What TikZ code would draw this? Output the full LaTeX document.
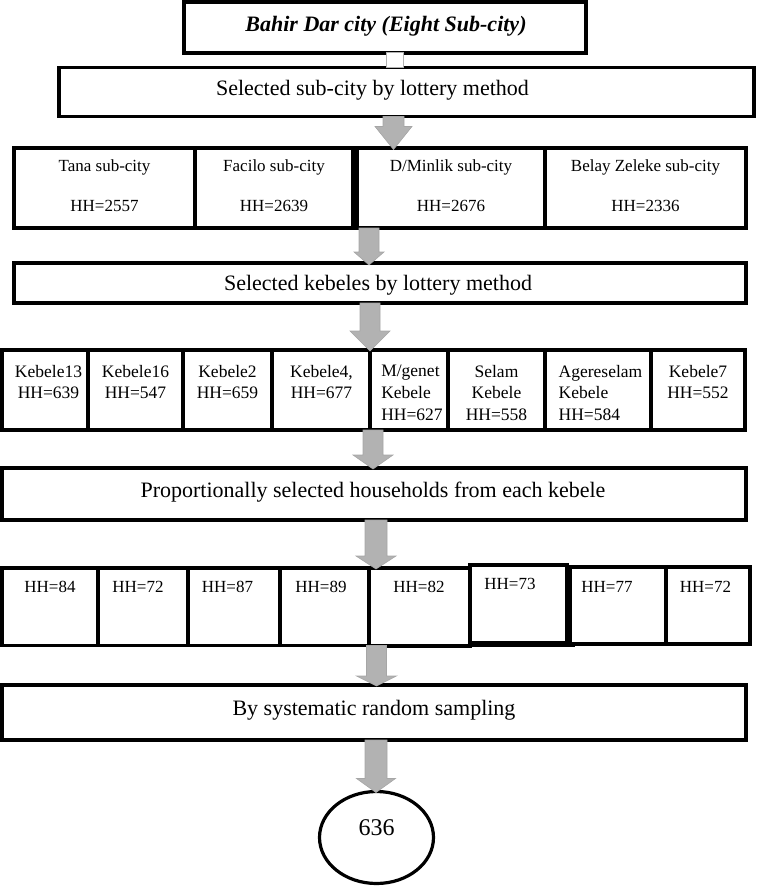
\documentclass[tikz,border=0pt]{standalone}
\usepackage{fontspec}
\setmainfont{Liberation Serif}
\usetikzlibrary{shapes.geometric,calc}
\tikzset{
  bx/.style={draw=black, line width=3.2pt, inner sep=0pt, outer sep=0pt, fill=white},
  big/.style={inner sep=0pt, font=\fontsize{22}{26}\selectfont},
  rowone/.style={inner sep=0pt, align=center, anchor=north, font=\fontsize{17}{40}\selectfont},
  rowtwo/.style={inner sep=0pt, anchor=north, font=\fontsize{17.5}{21.8}\selectfont},
  rowthree/.style={inner sep=0pt, anchor=base, font=\fontsize{17}{20}\selectfont},
  blockarr/.style={draw=gray!70, line width=0.6pt, left color=gray!60, middle color=gray!30, right color=gray!60},
}
% optional style, name, x1, y1, x2, y2
\newcommand{\bx}[6][]{\node[bx,#1,minimum width={(#5-#3)*1pt},minimum height={(#6-#4)*1pt}] (#2) at ({(#3+#5)/2},{(#4+#6)/2}) {};}
% from, to, cx, half shaft, half head, head length, overshoot
\newcommand{\barr}[7]{\path[blockarr] let \p1=(#1.south), \p2=(#2.north) in
  ({(#3-#4)*1pt},\y1) -- ({(#3+#4)*1pt},\y1) -- ({(#3+#4)*1pt},{\y2+(#6-#7)*1pt}) -- ({(#3+#5)*1pt},{\y2+(#6-#7)*1pt})
  -- ({#3*1pt},{\y2-#7*1pt}) -- ({(#3-#5)*1pt},{\y2+(#6-#7)*1pt}) -- ({(#3-#4)*1pt},{\y2+(#6-#7)*1pt}) -- cycle;}
\begin{document}
\begin{tikzpicture}[x=1pt,y=-1pt]
\useasboundingbox (0,0) rectangle (756,889);
% level 1
\bx[line width=4pt]{b1}{184}{2}{586}{52.5}
\node[big, anchor=base, font=\fontsize{22}{26}\selectfont\bfseries\itshape] (b1t) at (386,31.7) {Bahir Dar city (Eight Sub-city)};
\bx{b2}{59}{67.5}{754}{116.5}
\node[big, anchor=base] (b2t) at (372.5,95) {Selected sub-city by lottery method};
\draw[gray!60, fill=white, line width=0.8pt] let \p1=(b1.south), \p2=(b2.north) in ({386pt},\y1) rectangle ({403pt},\y2);
% sub-cities
\bx{r1a}{14}{148}{195}{228}
\bx{r1b}{195}{148}{353}{228}
\bx{r1c}{357}{148}{545}{228}
\bx{r1d}{545}{148}{746}{228}
\node[rowone] (t1a) at (104.5,160) {Tana sub-city\\HH=2557};
\node[rowone] (t1b) at (274,160) {Facilo sub-city\\HH=2639};
\node[rowone] (t1c) at (451,160) {D/Minlik sub-city\\HH=2676};
\node[rowone] (t1d) at (645.5,160) {Belay Zeleke sub-city\\HH=2336};
% kebeles
\bx{b3}{14}{263}{746}{303}
\node[big, anchor=base] (b3t) at (378,290) {Selected kebeles by lottery method};
\bx{r2a}{2}{350}{88}{430}
\bx{r2b}{88}{350}{183}{430}
\bx{r2c}{183}{350}{272}{430}
\bx{r2d}{272}{350}{370}{430}
\bx{r2e}{370}{350}{448}{430}
\bx{r2f}{448}{350}{545}{430}
\bx{r2g}{545}{350}{651}{430}
\bx{r2h}{651}{350}{745}{430}
\node[rowtwo, align=center] (t2a) at (48.5,364.7) {Kebele13\\HH=639};
\node[rowtwo, align=center] (t2b) at (135.5,364.7) {Kebele16\\HH=547};
\node[rowtwo, align=center] (t2c) at (227.5,364.7) {Kebele2\\HH=659};
\node[rowtwo, align=center] (t2d) at (321.5,364.7) {Kebele4,\\HH=677};
\node[rowtwo, align=left] (t2e) at (412,364.7) {M/genet\\Kebele\\HH=627};
\node[rowtwo, align=center] (t2f) at (496.5,364.7) {Selam\\Kebele\\HH=558};
\node[rowtwo, align=left] (t2g) at (600.5,364.7) {Agereselam\\Kebele\\HH=584};
\node[rowtwo, align=center] (t2h) at (698,364.7) {Kebele7\\HH=552};
% households
\bx{b4}{2}{468}{746}{520}
\node[big, anchor=base] (b4t) at (373,497) {Proportionally selected households from each kebele};
\bx{r3a}{2}{568}{98}{645.5}
\bx{r3b}{98}{568}{188}{645.5}
\bx{r3c}{188}{568}{280}{645.5}
\bx{r3d}{280}{568}{369}{645.5}
\bx[line width=4pt]{r3e}{369}{568}{470}{645.5}
\bx{r3g}{570}{567}{666}{644}
\bx{r3h}{666}{567}{750}{644}
\draw[line width=3.5pt] (r3e.south west) -- ++(206,0) coordinate (r3end);
\bx[line width=4pt]{r3f}{470}{565}{567}{643}
\node[rowthree] (t3a) at (50,592) {HH=84};
\node[rowthree] (t3b) at (138,592) {HH=72};
\node[rowthree] (t3c) at (227.5,592) {HH=87};
\node[rowthree] (t3d) at (321,592) {HH=89};
\node[rowthree] (t3e) at (419,592) {HH=82};
\node[rowthree] (t3f) at (510,589) {HH=73};
\node[rowthree] (t3g) at (607,592) {HH=77};
\node[rowthree] (t3h) at (705.5,592) {HH=72};
% final
\bx{b5}{2}{685}{746}{740}
\node[big, anchor=base] (b5t) at (374,715) {By systematic random sampling};
\node[draw, ellipse, line width=3.2pt, inner sep=0pt, outer sep=0pt, fill=white, minimum width=114pt, minimum height=92pt] (ell) at (376.5,837.5) {};
\node[inner sep=0pt, anchor=base, font=\fontsize{24}{28}\selectfont] (ellt) at (376.7,835) {636};
% block arrows
\barr{b2}{r1c}{393.5}{10.5}{18.5}{23}{1.5}
\barr{r1c}{b3}{369}{10}{15}{13}{2}
\barr{b3}{r2d}{370}{10}{20}{20}{1}
\barr{r2d}{b4}{373}{10}{20}{14}{1}
\barr{b4}{r3e}{376}{11}{20}{13}{1}
\barr{r3e}{b5}{376.5}{10}{20}{10}{1}
\barr{b5}{ell}{376}{11}{19.5}{14}{1}
\end{tikzpicture}
\end{document}
